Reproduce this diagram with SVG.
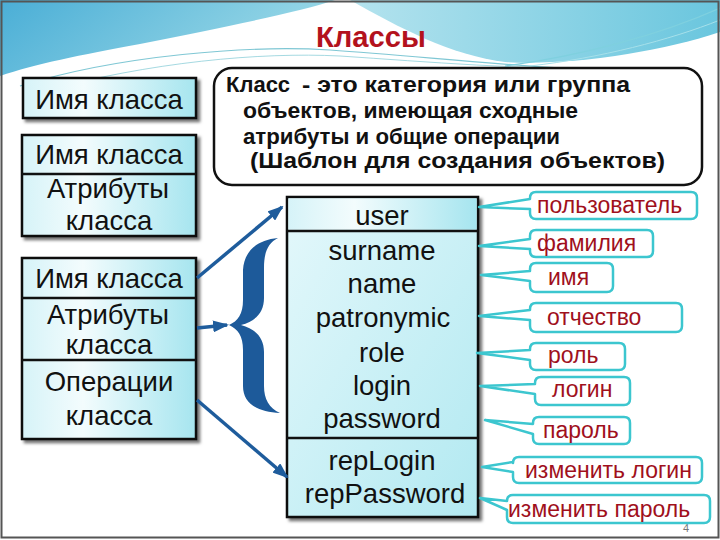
<svg xmlns="http://www.w3.org/2000/svg" width="720" height="540" viewBox="0 0 720 540">
<defs>
<style>
.lbl{font-family:"Liberation Sans",Arial,sans-serif;font-size:27.5px;fill:#111;text-anchor:middle}
.attr{font-family:"Liberation Sans",Arial,sans-serif;font-size:27.5px;fill:#111;text-anchor:middle}
.def{font-family:"Liberation Sans",Arial,sans-serif;font-weight:bold;font-size:22px;fill:#111}
.co{fill:#fff;stroke:#3cc6cf;stroke-width:2.5;stroke-linejoin:round}
.cot{font-family:"Liberation Sans",Arial,sans-serif;font-size:23px;fill:#a0101c}
.box{stroke:#111;stroke-width:2.5}
.arr{stroke:#1e5c9c;stroke-width:3.5;fill:none;marker-end:url(#ah)}
</style>
<linearGradient id="gl" x1="0" y1="0" x2="1" y2="0">
<stop offset="0" stop-color="#d6f3f8"/>
<stop offset="0.35" stop-color="#f3fcfd"/>
<stop offset="1" stop-color="#a6e5ef"/>
</linearGradient>
<linearGradient id="gu" x1="0" y1="0" x2="1" y2="1">
<stop offset="0" stop-color="#e4f8fb"/>
<stop offset="1" stop-color="#b2e9f1"/>
</linearGradient>
<linearGradient id="bgL" x1="0" y1="0" x2="1" y2="0.3">
<stop offset="0" stop-color="#4aaed6"/>
<stop offset="1" stop-color="#9bd9e7"/>
</linearGradient>
<linearGradient id="bgR" x1="0" y1="0" x2="1" y2="0">
<stop offset="0" stop-color="#b4e3ee"/>
<stop offset="1" stop-color="#6ac6de"/>
</linearGradient>
<filter id="sh" x="-10%" y="-10%" width="130%" height="130%">
<feDropShadow dx="3" dy="3" stdDeviation="1.5" flood-color="#000" flood-opacity="0.55"/>
</filter>
<marker id="ah" markerUnits="userSpaceOnUse" markerWidth="16" markerHeight="12" refX="14" refY="6" orient="auto">
<path d="M0,0 L16,6 L0,12 Z" fill="#1e5c9c"/>
</marker>
</defs>

<g id="background">
<rect x="0" y="0" width="720" height="540" fill="#fff"/>
<path d="M0,0 H335 C300,12 220,28 140,44 C80,55 35,64 0,76 Z" fill="url(#bgL)"/>
<path d="M350,0 H720 V32 C660,52 570,66 505,62 C450,55 400,28 350,0 Z" fill="url(#bgR)"/>
<path d="M20,86 C120,55 250,45 330,50 C420,56 500,66 600,70" fill="none" stroke="#5fb9c9" stroke-width="1.2" opacity="0.8"/>
<path d="M40,92 C150,62 260,52 340,56 C430,62 520,70 620,68" fill="none" stroke="#8fcfda" stroke-width="1" opacity="0.8"/>
<path d="M505,66 C580,56 660,35 720,8" fill="none" stroke="#7fd0df" stroke-width="1.2"/>
<path d="M530,66 C600,58 670,40 720,20" fill="none" stroke="#a6e0ea" stroke-width="1"/>
<rect x="1.5" y="1.5" width="717" height="536" fill="none" stroke="#555" stroke-width="2"/>
<text x="371" y="47" font-family="'Liberation Sans',Arial,sans-serif" font-weight="bold" font-size="30" fill="#b3121d" text-anchor="middle" textLength="110" lengthAdjust="spacingAndGlyphs">Классы</text>
<text x="683" y="532" font-family="'Liberation Sans',Arial,sans-serif" font-size="11" fill="#777">4</text>
</g>

<g id="box1">
<rect class="box" x="23" y="78" width="173" height="40" fill="url(#gl)" filter="url(#sh)"/>
<text class="lbl" x="109" y="109">Имя класса</text>
</g>

<g id="box2">
<rect class="box" x="22" y="135" width="174" height="101" fill="url(#gl)" filter="url(#sh)"/>
<line class="box" x1="22" y1="174" x2="196" y2="174"/>
<text class="lbl" x="109" y="164">Имя класса</text>
<text class="lbl" x="108" y="198">Атрибуты</text>
<text class="lbl" x="109" y="230">класса</text>
</g>

<g id="box3">
<rect class="box" x="22" y="258" width="174" height="181" fill="url(#gl)" filter="url(#sh)"/>
<line class="box" x1="22" y1="298" x2="196" y2="298"/>
<line class="box" x1="22" y1="360" x2="196" y2="360"/>
<text class="lbl" x="109" y="288">Имя класса</text>
<text class="lbl" x="108" y="324">Атрибуты</text>
<text class="lbl" x="109" y="354">класса</text>
<text class="lbl" x="109" y="391">Операции</text>
<text class="lbl" x="109" y="425">класса</text>
</g>

<g id="definition">
<rect x="214" y="68" width="488" height="117" rx="18" ry="18" fill="#fff" stroke="#111" stroke-width="2.5"/>
<text class="def" x="226" y="92" font-size="25">Класс</text>
<text class="def" x="302" y="92" font-size="20" textLength="328" lengthAdjust="spacingAndGlyphs">- это категория или группа</text>
<text class="def" x="243" y="118" textLength="335" lengthAdjust="spacingAndGlyphs">объектов, имеющая сходные</text>
<text class="def" x="243" y="144" textLength="317" lengthAdjust="spacingAndGlyphs">атрибуты и общие операции</text>
<text class="def" x="250" y="168" textLength="415" lengthAdjust="spacingAndGlyphs">(Шаблон для создания объектов)</text>
</g>

<g id="brace">
<path d="M278,238 C256,240 244,252 243,270 L243,300 C243,314 238,321 229,325 C238,329 243,336 243,350 L243,386 C243,404 258,412 280,413 C269,408 264,399 264,386 L264,352 C264,338 256,329 241,325 C256,321 264,312 264,298 L264,268 C264,252 268,243 278,238 Z" fill="#1d5a9a"/>
</g>

<g id="user">
<rect class="box" x="287" y="197" width="191" height="320" fill="url(#gu)" filter="url(#sh)"/>
<rect x="288.5" y="198.5" width="188" height="31" fill="url(#gl)"/>
<line class="box" x1="287" y1="231" x2="478" y2="231"/>
<line class="box" x1="287" y1="438" x2="478" y2="438"/>
<text class="attr" x="382" y="225" font-size="30">user</text>
<text class="attr" x="382" y="260">surname</text>
<text class="attr" x="382" y="293">name</text>
<text class="attr" x="383" y="327">patronymic</text>
<text class="attr" x="382" y="362">role</text>
<text class="attr" x="382" y="395">login</text>
<text class="attr" x="382" y="428">password</text>
<text class="attr" x="382" y="470">repLogin</text>
<text class="attr" x="385" y="503">repPassword</text>
</g>

<g id="connectors">
<line class="arr" x1="197" y1="278" x2="282" y2="207"/>
<line class="arr" x1="197" y1="328" x2="227" y2="325"/>
<line class="arr" x1="197" y1="400" x2="287" y2="477"/>
</g>

<g id="callout-polzovatel">
<path class="co" d="M536,192 H691 Q697,192 697,198 V213 Q697,219 691,219 H536 Q530,219 530,213 V209 L479,207 L530,199 V198 Q530,192 536,192 Z"/>
<text class="cot" x="537" y="213">пользователь</text>
</g>
<g id="callout-familiya">
<path class="co" d="M536,230 H647 Q653,230 653,236 V251 Q653,257 647,257 H536 Q530,257 530,251 V249 L479,246 L530,239 V236 Q530,230 536,230 Z"/>
<text class="cot" x="537" y="251">фамилия</text>
</g>
<g id="callout-imya">
<path class="co" d="M536,263 H607 Q613,263 613,269 V286 Q613,292 607,292 H536 Q530,292 530,286 V281 L481,275 L530,271 V269 Q530,263 536,263 Z"/>
<text class="cot" x="548" y="285">имя</text>
</g>
<g id="callout-otchestvo">
<path class="co" d="M536,303 H676 Q682,303 682,309 V326 Q682,332 676,332 H536 Q530,332 530,326 V320 L479,316 L530,310 V309 Q530,303 536,303 Z"/>
<text class="cot" x="547" y="325">отчество</text>
</g>
<g id="callout-rol">
<path class="co" d="M536,343 H619 Q625,343 625,349 V364 Q625,370 619,370 H536 Q530,370 530,364 V360 L477,353 L530,350 V349 Q530,343 536,343 Z"/>
<text class="cot" x="548" y="363">роль</text>
</g>
<g id="callout-login">
<path class="co" d="M541,377 H624 Q630,377 630,383 V399 Q630,405 624,405 H541 Q535,405 535,399 V394 L480,386 L535,384 V383 Q535,377 541,377 Z"/>
<text class="cot" x="552" y="397">логин</text>
</g>
<g id="callout-parol">
<path class="co" d="M539,417 H624 Q630,417 630,423 V438 Q630,444 624,444 H539 Q533,444 533,438 V434 L485,420 L533,424 V423 Q533,417 539,417 Z"/>
<text class="cot" x="543" y="438">пароль</text>
</g>
<g id="callout-izm-login">
<path class="co" d="M519,457 H696 Q702,457 702,463 V477 Q702,483 696,483 H519 Q513,483 513,477 V472 L482,467 L513,462 V463 Q513,457 519,457 Z"/>
<text class="cot" x="525" y="478">изменить логин</text>
</g>
<g id="callout-izm-parol">
<path class="co" d="M513,495 H704 Q710,495 710,501 V517 Q710,523 704,523 H513 Q507,523 507,517 V510 L480,498 L507,501 V501 Q507,495 513,495 Z"/>
<text class="cot" x="508" y="517">изменить пароль</text>
</g>
</svg>
